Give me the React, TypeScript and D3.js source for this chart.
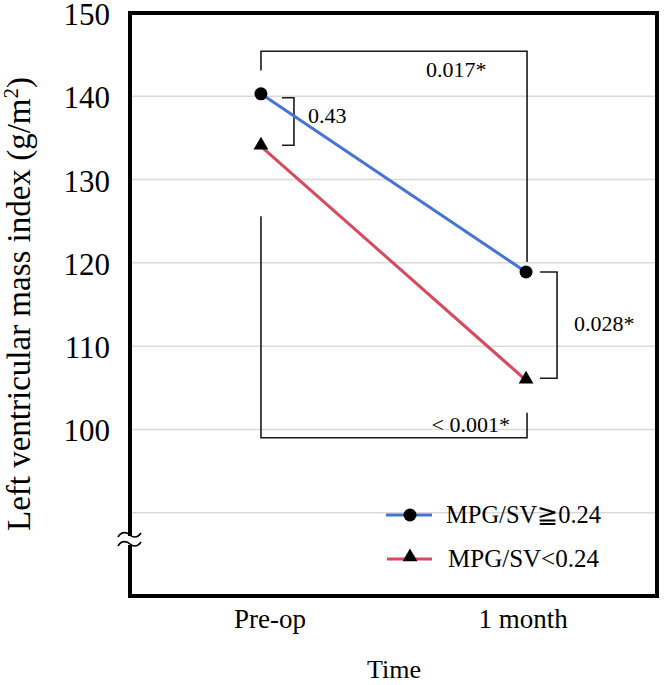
import React from "react";
import * as d3 from "d3";

const categories = ["Pre-op", "1 month"];
const seriesHigh = [140.3, 118.9]; // MPG/SV≧0.24
const seriesLow = [134.0, 105.9]; // MPG/SV<0.24
const yTickValues = [100, 110, 120, 130, 140, 150];
const gridValues = [90, 100, 110, 120, 130, 140];
const legendLabels = ["MPG/SV≧0.24", "MPG/SV<0.24"];
const pLabels = ["0.017*", "0.43", "0.028*", "< 0.001*"];

const W = 665;
const H = 685;
const L = 130, R = 657, T = 13, B = 596;
const BLUE = "#4474d6";
const RED = "#d9485c";
const FONT = "'Liberation Serif', 'Times New Roman', serif";

export default function App() {
  const x = d3.scalePoint<string>().domain(categories).range([L, R]).padding(0.494);
  const y = d3.scaleLinear().domain([80, 150]).range([B, T]);
  const line = d3.line<number>().x((_, i) => x(categories[i])!).y((d) => y(d));

  const x0 = x(categories[0])!;
  const x1 = x(categories[1])!;

  const tri = d3.symbol().type(d3.symbolTriangle).size(95)()!;

  const labelOffsets = [9, -3];

  return (
    <div style={{ position: "absolute", left: 0, top: 0 }}>
      <svg width={W} height={H} style={{ display: "block", background: "#fff" }} fontFamily={FONT}>
        {/* grid */}
        {gridValues.map((v) => (
          <line key={v} x1={L} x2={R} y1={y(v)} y2={y(v)} stroke="#d9d9d9" strokeWidth={1.5} />
        ))}
        {/* y tick labels */}
        {yTickValues.map((v) => (
          <text key={v} x={110} y={y(v) + 12} fontSize={31} textAnchor="end" fill="#000">
            {v}
          </text>
        ))}
        {/* y axis title */}
        <text
          transform={`translate(30,${304}) rotate(-90)`}
          fontSize={33}
          textAnchor="middle"
          fill="#000"
        >
          Left ventricular mass index (g/m
          <tspan fontSize={21} dy={-12}>2</tspan>
          <tspan dy={12}>)</tspan>
        </text>
        {/* x labels */}
        {categories.map((c, i) => (
          <text key={c} x={x(c)! + labelOffsets[i]} y={628} fontSize={27} textAnchor="middle" fill="#000">
            {c}
          </text>
        ))}
        <text x={394} y={678} fontSize={26} textAnchor="middle" fill="#000">
          Time
        </text>

        {/* brackets */}
        <g fill="none" stroke="#1a1a1a" strokeWidth={1.6}>
          <path d={`M${x0},${y(143.1)}V${y(145.4)}H${x1 + 1}V${y(120.1)}`} />
          <path d={`M${x0},${y(125.6)}V${y(99.0)}H${x1 + 1}V${y(102.0)}`} />
          <path d={`M${x0 + 21},${y(seriesHigh[0]) + 4}H${x0 + 33}V${y(seriesLow[0]) - 1}H${x0 + 21}`} />
          <path d={`M${x1 + 14},${y(seriesHigh[1])}H${x1 + 31}V${y(seriesLow[1]) - 2}H${x1 + 14}`} />
        </g>
        <g fontSize={22} fill="#000">
          <text x={426} y={77}>{pLabels[0]}</text>
          <text x={308} y={123}>{pLabels[1]}</text>
          <text x={574} y={331}>{pLabels[2]}</text>
          <text x={510} y={432} textAnchor="end">{pLabels[3]}</text>
        </g>

        {/* series */}
        <path d={line(seriesHigh)!} fill="none" stroke={BLUE} strokeWidth={3} />
        <path d={line(seriesLow)!} fill="none" stroke={RED} strokeWidth={3} />
        {seriesHigh.map((v, i) => (
          <circle key={"h" + i} cx={x(categories[i])!} cy={y(v)} r={6.5} fill="#000" />
        ))}
        {seriesLow.map((v, i) => (
          <path key={"l" + i} d={tri} transform={`translate(${x(categories[i])!},${y(v) - 1})`} fill="#000" />
        ))}

        {/* legend */}
        <line x1={386} x2={432} y1={515} y2={515} stroke={BLUE} strokeWidth={3} />
        <circle cx={410} cy={515} r={6.5} fill="#000" />
        <text x={446} y={523} fontSize={24.5} fill="#000">{legendLabels[0]}</text>
        <line x1={387} x2={432} y1={559} y2={559} stroke={RED} strokeWidth={3} />
        <path d={tri} transform={`translate(410,557)`} fill="#000" />
        <text x={448} y={567} fontSize={25} fill="#000">{legendLabels[1]}</text>

        {/* frame */}
        <path d={`M${L},${T}H${R}V${B}H${L}Z`} fill="none" stroke="#000" strokeWidth={4} />
        {/* axis break */}
        <rect x={L - 4} y={536} width={8} height={9} fill="#fff" />
        <g fill="none" stroke="#000" strokeWidth={1.6}>
          <path d="M118,537 C122,530 128,533 130,535 C132,537 137,539 141,533" />
          <path d="M118,546 C122,539 128,542 130,544 C132,546 137,548 141,542" />
        </g>
      </svg>
    </div>
  );
}
